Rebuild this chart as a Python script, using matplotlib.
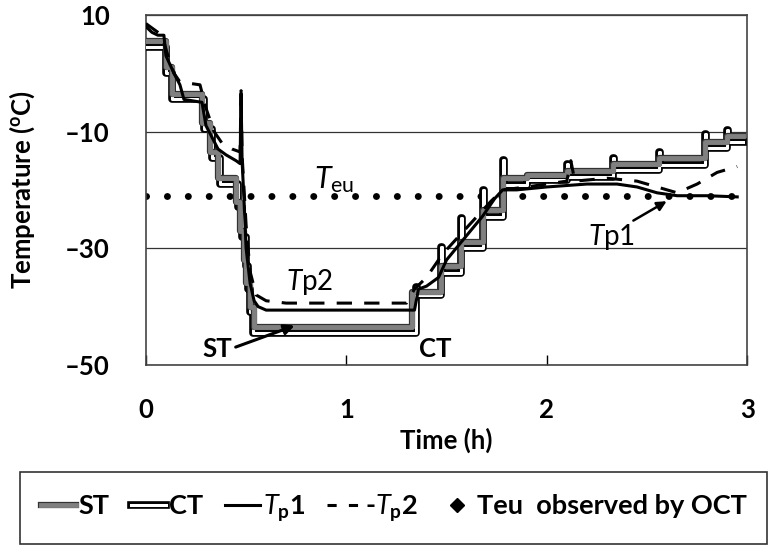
import numpy as np
import matplotlib
matplotlib.use("Agg")
import matplotlib.pyplot as plt
import matplotlib.patheffects as pe
from matplotlib.lines import Line2D

plt.rcParams["font.family"] = ["Lato", "DejaVu Sans"]
plt.rcParams["mathtext.fontset"] = "custom"
plt.rcParams["mathtext.rm"] = "Lato"
plt.rcParams["mathtext.it"] = "Lato:italic"
plt.rcParams["mathtext.bf"] = "Lato:bold"

# ---- data (time in h, temperature in degC) ----
st_time = [0, 0.10, 0.13, 0.28, 0.32, 0.36, 0.45, 0.47, 0.49, 0.50, 0.52, 0.54,
           1.33, 1.47, 1.57, 1.68, 1.78, 1.90, 2.10, 2.33, 2.56, 2.79, 2.90, 2.98]
st_temp = [5.5, 1.0, -3.5, -8.5, -13.5, -18.0, -22.0, -27.0, -32.0, -36.0, -40.0, -43.5,
           -37.5, -33.0, -29.0, -23.5, -18.0, -17.5, -16.8, -15.5, -14.5, -11.8, -10.8, -10.8]

ct_time = [0, 0.10, 0.13, 0.29, 0.33, 0.37, 0.46, 0.48, 0.50, 0.51, 0.52, 0.535,
           1.35, 1.355, 1.47, 1.475, 1.57, 1.575, 1.68, 1.685, 1.78, 1.785,
           1.90, 2.10, 2.105, 2.33, 2.335, 2.56, 2.565, 2.79, 2.795, 2.90, 2.905, 2.98]
ct_temp = [4.5, 0.0, -4.5, -9.5, -14.5, -19.0, -23.0, -28.0, -33.0, -37.0, -41.0, -44.5,
           -36.6, -38.0, -29.8, -34.3, -24.8, -30.0, -20.0, -24.6, -14.9, -19.1,
           -18.3, -15.5, -17.8, -14.5, -16.6, -13.5, -15.7, -10.5, -12.8, -9.8, -11.8, -11.8]

tp1_time = [0, 0.03, 0.06, 0.09, 0.10, 0.14, 0.17, 0.19, 0.28, 0.30, 0.33, 0.36, 0.40,
            0.45, 0.47, 0.475, 0.48, 0.49, 0.50, 0.52, 0.54, 0.56, 0.60, 1.34, 1.36,
            1.40, 1.46, 1.50, 1.56, 1.62, 1.68, 1.74, 1.78, 1.85, 2.00, 2.20, 2.35,
            2.45, 2.55, 2.65, 2.80, 2.95]
tp1_temp = [8.0, 7.0, 6.5, 6.5, 3.0, 0.0, -2.0, -4.5, -5.0, -9.0, -11.0, -13.0, -14.0,
            -15.0, -15.5, -3.5, -15.0, -22.0, -30.0, -36.0, -39.0, -40.0, -40.6, -40.6, -37.0,
            -36.5, -35.0, -32.0, -29.5, -27.0, -24.5, -21.5, -20.0, -20.0, -19.5, -19.0, -19.0,
            -19.5, -20.5, -21.0, -21.0, -21.2]

tp2_time = [0, 0.04, 0.08, 0.11, 0.14, 0.17, 0.27, 0.30, 0.34, 0.38, 0.43, 0.47, 0.475,
            0.48, 0.50, 0.52, 0.55, 0.60, 0.70, 1.30, 1.34, 1.40, 1.48, 1.56, 1.64,
            1.72, 1.78, 1.90, 2.10, 2.12, 2.14, 2.30, 2.45, 2.55, 2.65, 2.75, 2.85, 2.95]
tp2_temp = [8.5, 7.5, 6.5, 3.0, 0.0, -1.5, -2.0, -6.0, -10.0, -12.0, -13.0, -13.5, -3.0,
            -14.0, -26.0, -34.0, -38.0, -39.0, -39.4, -39.4, -37.0, -35.0, -31.0, -28.0, -25.0,
            -22.0, -20.0, -19.5, -18.5, -15.0, -18.5, -18.0, -18.5, -19.5, -20.5, -19.0, -17.0, -16.0]

teu = -21.0
x_ticks = [0, 1, 2, 3]
y_ticks = [10, -10, -30, -50]

fig = plt.figure(figsize=(7.8, 5.48), dpi=100)
ax = fig.add_axes([0.187, 0.334, 0.771, 0.639])

# Teu reference (dotted row of dots)
ax.axhline(teu, color="black", lw=5, ls=(0, (0.01, 3.0)), dash_capstyle="round", zorder=2)

ax.plot(ct_time, ct_temp, drawstyle="steps-post", color="white", lw=2.2,
        path_effects=[pe.Stroke(linewidth=5.5, foreground="black"), pe.Normal()],
        solid_joinstyle="round", zorder=3)
ax.plot(st_time, st_temp, drawstyle="steps-post", color="#808080", lw=3.5,
        path_effects=[pe.Stroke(linewidth=4.5, foreground="#333333"), pe.Normal()],
        zorder=4)
ax.plot(tp1_time, tp1_temp, color="black", lw=2.2, zorder=5)
ax.plot(tp2_time, tp2_temp, color="black", lw=2.2, ls=(0, (5, 4)), zorder=5)

ax.set_xlim(0, 3)
ax.set_ylim(-50, 10)
ax.set_xticks(x_ticks)
ax.set_yticks(y_ticks)
ax.set_yticklabels(["10", "\u201310", "\u201330", "\u201350"])
ax.tick_params(axis="x", direction="in", length=7, width=1, pad=24, labelsize=18.5)
ax.tick_params(axis="y", length=0, pad=26, labelsize=18.5)
for lab in ax.get_xticklabels() + ax.get_yticklabels():
    lab.set_fontweight("bold")
ax.grid(axis="y", color="#333333", lw=0.9)
for s in ax.spines.values():
    s.set_color("#444444")
    s.set_linewidth(1.2)

ax.set_xlabel("Time (h)", fontsize=18.5, fontweight="bold", labelpad=4)
ax.set_ylabel(r"Temperature ($\mathbf{^{o}}$C)", fontsize=18.5, fontweight="bold", labelpad=20)

# annotations
ax.text(0.94, -18.3, r"$\mathit{T}_{\mathrm{eu}}$", fontsize=22, ha="center", va="center")
ax.text(0.815, -35.8, r"$\mathit{T}$p2", fontsize=20, ha="center", va="center")
ax.text(0.355, -47.3, "ST", fontsize=18.5, fontweight="bold", ha="center", va="center")
ax.text(1.445, -47.3, "CT", fontsize=18.5, fontweight="bold", ha="center", va="center")
ax.text(2.32, -28.0, r"$\mathit{T}$p1", fontsize=20, ha="center", va="center")
ax.annotate("", xy=(0.755, -43.1), xytext=(0.435, -47.1),
            arrowprops=dict(arrowstyle="-|>", color="black", lw=2.2, mutation_scale=15),
            zorder=6)
ax.annotate("", xy=(2.61, -21.7), xytext=(2.42, -25.5),
            arrowprops=dict(arrowstyle="-|>", color="black", lw=1.8, mutation_scale=14))

# legend
st_h = Line2D([], [], color="#808080", lw=3.5,
              path_effects=[pe.Stroke(linewidth=4.5, foreground="#333333"), pe.Normal()])
ct_h = Line2D([], [], color="white", lw=2.2,
              path_effects=[pe.Stroke(linewidth=5.5, foreground="black"), pe.Normal()])
tp1_h = Line2D([], [], color="black", lw=2.2)
tp2_h = Line2D([], [], color="black", lw=2.2, ls=(0, (3, 4)))
teu_h = Line2D([], [], color="black", marker="D", ms=7, ls="none")
leg = fig.legend([st_h, ct_h, tp1_h, tp2_h, teu_h],
                 ["ST", "CT", r"$\mathit{T}_{\mathbf{p}}$1", r"-$\mathit{T}_{\mathbf{p}}$2",
                  "Teu  observed by OCT"],
                 loc="center", bbox_to_anchor=(0.505, 0.073), ncol=5, fancybox=False,
                 edgecolor="black", handlelength=1.3, handletextpad=0.1, columnspacing=0.8,
                 prop={"size": 19.5, "weight": "bold"}, borderpad=0.75)
leg.get_frame().set_linewidth(1.2)

fig.savefig("out.png", dpi=100)
